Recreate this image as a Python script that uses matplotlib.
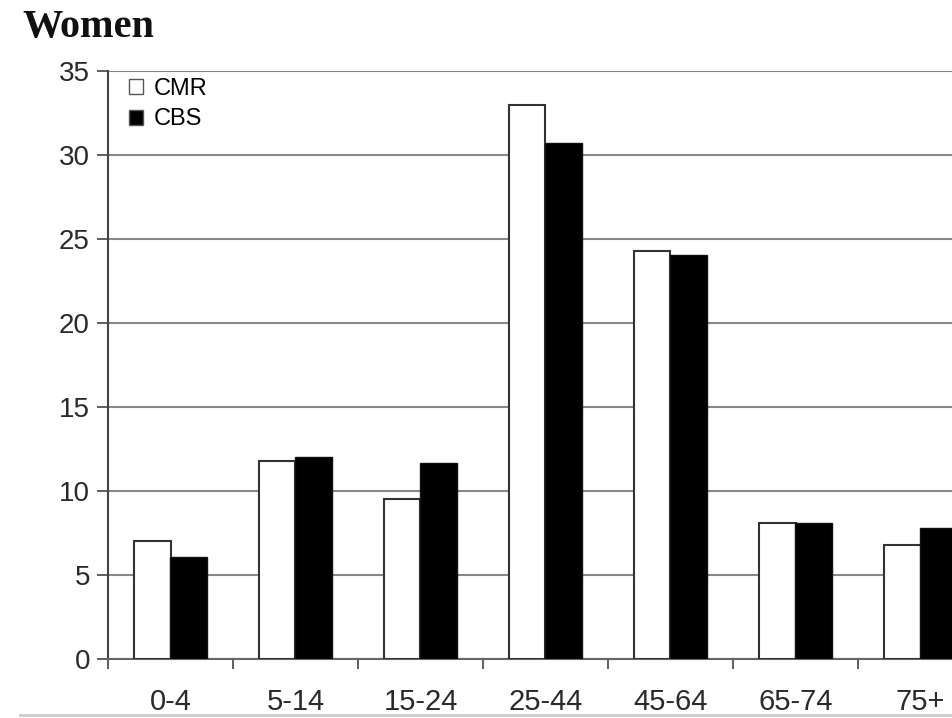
import matplotlib
matplotlib.use("Agg")
import matplotlib.pyplot as plt
from matplotlib.lines import Line2D
import numpy as np

categories = ["0-4", "5-14", "15-24", "25-44", "45-64", "65-74", "75+"]
cmr = [7.0, 11.8, 9.5, 33.0, 24.3, 8.1, 6.8]
cbs = [6.05, 12.0, 11.65, 30.7, 24.05, 8.1, 7.8]
yticks = [0, 5, 10, 15, 20, 25, 30, 35]

W, H = 953, 718
fig = plt.figure(figsize=(W / 100, H / 100), dpi=100)
plt.rcParams['font.family'] = ['Liberation Sans', 'DejaVu Sans']

left, right, top, bottom = 108, 983, 71, 659
ax = fig.add_axes([left / W, (H - bottom) / H, (right - left) / W, (bottom - top) / H])

x = np.arange(len(categories))
bw = 0.29
ax.bar(x - bw / 2, cmr, bw, facecolor='white', edgecolor='#333333', linewidth=1.5, label='CMR', zorder=3)
ax.bar(x + bw / 2, cbs, bw, facecolor='black', edgecolor='#111111', linewidth=1.0, label='CBS', zorder=3)

ax.set_xlim(-0.5, len(categories) - 0.5)
ax.set_ylim(0, 35)
ax.set_yticks(yticks)
ax.set_yticklabels([str(t) for t in yticks], fontsize=20, color='#2a2a2a')
ax.set_xticks(x)
ax.set_xticklabels(categories, fontsize=21, color='#2a2a2a')
ax.set_xticks(np.arange(-0.5, len(categories), 1.0), minor=True)
ax.tick_params(axis='x', which='major', length=0, pad=21)
ax.tick_params(axis='x', which='minor', length=7, width=1.2, color='#444444', direction='out')
ax.tick_params(axis='y', length=8, width=1.2, color='#444444', direction='out', pad=5)

ax.yaxis.grid(True, color='#888888', linewidth=1.5, zorder=0)
ax.set_axisbelow(True)
for s in ['top', 'right']:
    ax.spines[s].set_visible(False)
ax.spines['left'].set_color('#444444')
ax.spines['left'].set_linewidth(1.5)
ax.spines['bottom'].set_color('#666666')
ax.spines['bottom'].set_linewidth(1.5)

leg = ax.legend(loc='upper left', bbox_to_anchor=(0.005, 1.016), frameon=False, fontsize=17,
                handlelength=0.6, handleheight=0.6, handletextpad=0.45, labelspacing=0.35,
                borderaxespad=0.3)
for h in leg.legend_handles:
    h.set_linewidth(1.0)
    h.set_edgecolor('#555555')

fig.text(22 / W, 1 - 28 / H, "Women", fontsize=29, fontweight='bold',
         family=['Liberation Serif', 'DejaVu Serif'], va='center', ha='left', color='#111111')

fig.add_artist(Line2D([20 / W, 1], [1 - 715 / H, 1 - 715 / H], transform=fig.transFigure,
                      color='#cccccc', linewidth=2.0, zorder=10))

fig.savefig("out.png", dpi=100)
